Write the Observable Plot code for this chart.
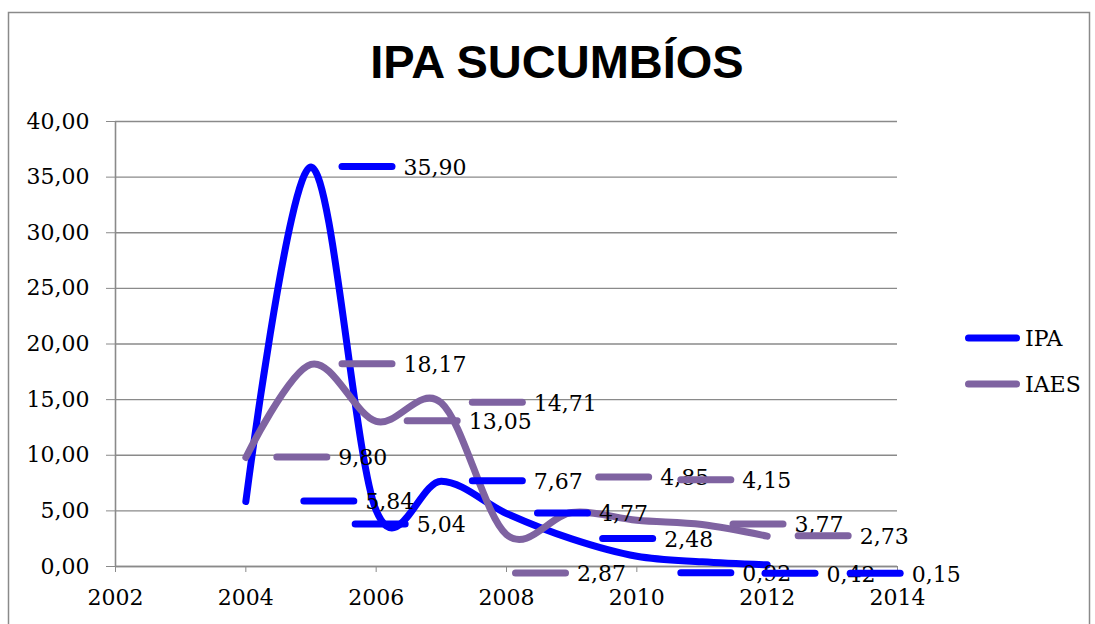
<!DOCTYPE html>
<html>
<head>
<meta charset="utf-8">
<script src="https://cdn.jsdelivr.net/npm/d3@7"></script>
<script src="https://cdn.jsdelivr.net/npm/@observablehq/plot@0.6"></script>
<style>
  html, body { margin: 0; padding: 0; background: #fff; }
  #chart svg text { fill: #000; }
</style>
</head>
<body>
<div id="chart"></div>
<script>
// ---- data ----
const title = "IPA SUCUMBÍOS";
const years = [2004, 2005, 2006, 2007, 2008, 2009, 2010, 2011, 2012];
const ipa  = [5.84, 35.90, 5.04, 7.67, 4.77, 2.48, 0.92, 0.42, 0.15];
const iaes = [9.80, 18.17, 13.05, 14.71, 2.87, 4.85, 4.15, 3.77, 2.73];
const seriesNames = ["IPA", "IAES"];
const seriesColors = ["#0000ff", "#7f63a1"];
const xTicks = [2002, 2004, 2006, 2008, 2010, 2012, 2014];
const yTicks = [0, 5, 10, 15, 20, 25, 30, 35, 40];
// label placement nudges (pixels), Excel moved some labels to avoid overlaps
const ipaLabelNudge  = [[27,0],[0,0],[-52,14],[0,0],[0,0],[0,0],[13,17],[32,12],[52,9]];
const iaesLabelNudge = [[0,0],[0,0],[0,0],[0,0],[-22,39],[-4,-35],[13,-40],[0,0],[0,0]];

const fmt = v => v.toFixed(2).replace(".", ",");

const rows = [];
years.forEach((yr, i) => rows.push({series: "IPA", year: yr, value: ipa[i], nudge: ipaLabelNudge[i]}));
years.forEach((yr, i) => rows.push({series: "IAES", year: yr, value: iaes[i], nudge: iaesLabelNudge[i]}));

const grid = "#8a8a8a";
const serif = "DejaVu Serif";
const fs = 22;

const plot = Plot.plot({
  width: 1095,
  height: 624,
  marginLeft: 115,
  marginRight: 198,
  marginTop: 121,
  marginBottom: 58,
  style: {fontFamily: serif, fontSize: fs + "px", color: grid, background: "#fff", overflow: "visible"},
  x: {domain: [2002, 2014], ticks: xTicks, tickFormat: d => String(d), tickSize: 6, tickPadding: 17, label: null},
  y: {domain: [0, 40], ticks: yTicks, tickFormat: fmt, tickSize: 9, tickPadding: 17, label: null},
  color: {domain: seriesNames, range: seriesColors},
  marks: [
    Plot.gridY(yTicks, {stroke: grid, strokeOpacity: 1, strokeWidth: 1.4}),
    Plot.ruleX([2002], {stroke: grid, strokeWidth: 1.6}),
    Plot.ruleY([0], {stroke: grid, strokeWidth: 1.6}),
    Plot.line(rows, {x: "year", y: "value", z: "series", stroke: "series",
      curve: "cardinal", strokeWidth: 7, strokeLinecap: "round", strokeLinejoin: "round"})
  ]
});

document.getElementById("chart").appendChild(plot);

const svg = d3.select(plot);
const sxo = plot.scale("x"), syo = plot.scale("y");
const sx = d3.scaleLinear(sxo.domain, sxo.range);
const sy = d3.scaleLinear(syo.domain, syo.range);
const colorOf = s => seriesColors[seriesNames.indexOf(s)];

// outer chart border
svg.insert("rect", ":first-child")
  .attr("x", 8.5).attr("y", 12.5).attr("width", 1081).attr("height", 620)
  .attr("fill", "#fff").attr("stroke", "#8a8a8a").attr("stroke-width", 1.5);

// data labels (legend-key dash + value)
const lab = svg.append("g").attr("aria-label", "data labels")
  .attr("text-anchor", "start").attr("font-family", serif).attr("font-size", fs);
rows.forEach(r => {
  const px = sx(r.year) + r.nudge[0];
  const py = sy(r.value) + r.nudge[1];
  lab.append("path")
    .attr("d", `M${px + 31.5},${py}H${px + 81.5}`)
    .attr("stroke", colorOf(r.series)).attr("stroke-width", 7)
    .attr("stroke-linecap", "round").attr("fill", "none");
  lab.append("text")
    .attr("x", px + 93).attr("y", py).attr("dy", "0.38em")
    .attr("text-anchor", "start")
    .text(fmt(r.value));
});

// title
svg.append("text")
  .attr("x", 557).attr("y", 78).attr("text-anchor", "middle")
  .attr("font-family", "Liberation Sans, Arial, sans-serif")
  .attr("font-weight", "bold").attr("font-size", 47)
  .text(title);

// legend
const leg = svg.append("g").attr("aria-label", "legend")
  .attr("text-anchor", "start").attr("font-family", serif).attr("font-size", fs);
seriesNames.forEach((s, i) => {
  const y = 338 + i * 46;
  leg.append("path")
    .attr("d", `M${968.5},${y}H${1016.5}`)
    .attr("stroke", seriesColors[i]).attr("stroke-width", 7)
    .attr("stroke-linecap", "round").attr("fill", "none");
  leg.append("text")
    .attr("x", 1025).attr("y", y).attr("dy", "0.38em")
    .attr("text-anchor", "start")
    .text(s);
});
</script>
</body>
</html>
